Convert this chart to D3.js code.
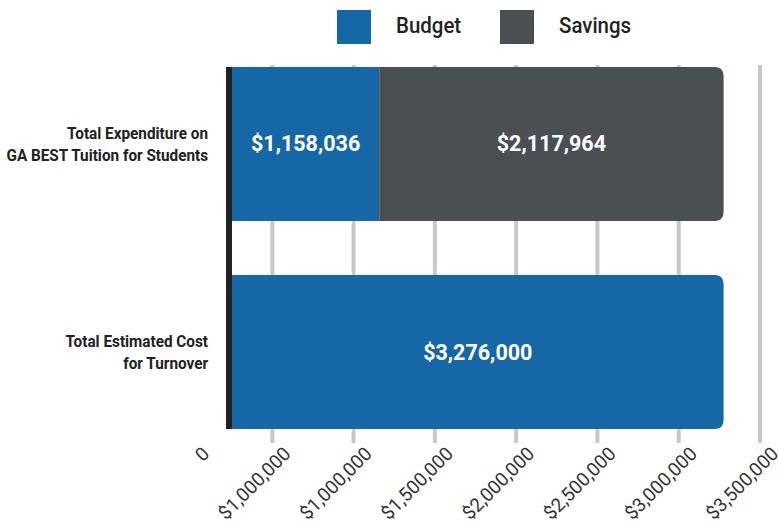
<!DOCTYPE html>
<html>
<head>
<meta charset="utf-8">
<script src="https://cdn.jsdelivr.net/npm/d3@7"></script>
<style>
  html, body { margin: 0; padding: 0; background: #fff; }
  svg { display: block; font-family: Roboto, "Noto Sans", sans-serif; }
</style>
</head>
<body>
<svg id="chart" width="779" height="531"></svg>
<script>
// ---- data ----
const categories = [
  ["Total Expenditure on", "GA BEST Tuition for Students"],
  ["Total Estimated Cost", "for Turnover"]
];
const seriesNames = ["Budget", "Savings"];
const budget = [1158036, 3276000];
const savings = [2117964, 0];
const tickValues = [0, 500000, 1000000, 1500000, 2000000, 2500000, 3000000, 3500000];
const tickLabels = ["0", "$1,000,000", "$1,000,000", "$1,500,000", "$2,000,000", "$2,500,000", "$3,000,000", "$3,500,000"];

// ---- styles / layout ----
const colors = ["#1667a6", "#4a4f52"];
const W = 779, H = 531;
const plotLeft = 232;
const svg = d3.select("#chart");

const x = d3.scaleLinear().domain([0, 3500000]).range([191, 760]);
const y = d3.scaleBand().domain(d3.range(categories.length)).range([67, 429]).paddingInner(0.26).paddingOuter(0);

const rows = categories.map((c, i) => {
  const segs = [];
  let acc = 0;
  [budget[i], savings[i]].forEach((v, s) => {
    if (v > 0) { segs.push({ s, x0: acc, x1: acc + v, v }); }
    acc += v;
  });
  segs.forEach((d, k) => d.last = k === segs.length - 1);
  return { i, segs };
});

// clip
svg.append("defs").append("clipPath").attr("id", "plotclip")
  .append("rect").attr("x", plotLeft).attr("y", 0).attr("width", W - plotLeft).attr("height", H);

// gridlines
svg.append("g").selectAll("line")
  .data(tickValues.filter(v => v > 0))
  .join("line")
  .attr("x1", d => x(d)).attr("x2", d => x(d))
  .attr("y1", 65).attr("y2", 443)
  .attr("stroke", "#c8c8c8").attr("stroke-width", 4);

// bars
function barPath(x0, x1, y0, h, r) {
  if (r <= 0) return `M${x0},${y0}H${x1}V${y0 + h}H${x0}Z`;
  return `M${x0},${y0}H${x1 - r}Q${x1},${y0} ${x1},${y0 + r}V${y0 + h - r}Q${x1},${y0 + h} ${x1 - r},${y0 + h}H${x0}Z`;
}
const barG = svg.append("g").attr("clip-path", "url(#plotclip)");
rows.forEach(row => {
  barG.selectAll(null).data(row.segs).join("path")
    .attr("d", d => barPath(x(d.x0), x(d.x1), y(row.i), y.bandwidth(), d.last ? 9 : 0))
    .attr("fill", d => colors[d.s]);
});

// value labels
const fmt = d3.format("$,");
rows.forEach(row => {
  svg.append("g").selectAll("text").data(row.segs).join("text")
    .attr("x", d => (Math.max(x(d.x0), plotLeft) + x(d.x1)) / 2)
    .attr("y", y(row.i) + y.bandwidth() / 2 + 7.5)
    .attr("text-anchor", "middle")
    .attr("fill", "#fff")
    .attr("font-weight", 700)
    .attr("font-size", 21.5)
    .text(d => fmt(d.v));
});

// axis line
svg.append("rect")
  .attr("x", plotLeft - 6).attr("y", y(0))
  .attr("width", 6).attr("height", y(categories.length - 1) + y.bandwidth() - y(0))
  .attr("fill", "#222");

// category labels
categories.forEach((lines, i) => {
  const cy = y(i) + y.bandwidth() / 2;
  lines.forEach((t, k) => {
    svg.append("g")
      .attr("transform", `translate(208,${cy - 5 + k * 22}) scale(0.9,1)`)
      .append("text")
      .attr("text-anchor", "end")
      .attr("font-weight", 700)
      .attr("font-size", 17)
      .attr("fill", "#222")
      .text(t);
  });
});

// x axis tick labels
const axis = d3.axisBottom(x).tickValues(tickValues).tickFormat((d, i) => tickLabels[i]).tickSize(0);
const ax = svg.append("g").call(axis);
ax.select(".domain").remove();
ax.selectAll("text")
  .attr("x", 0).attr("y", 0).attr("dy", 0)
  .attr("transform", "translate(19,455) rotate(-45)")
  .attr("text-anchor", "end")
  .attr("font-size", 19)
  .attr("font-family", "Roboto, sans-serif")
  .attr("fill", "#333");

// legend
const lg = svg.append("g");
seriesNames.forEach((n, i) => {
  const x0 = 337 + i * 163;
  lg.append("rect").attr("x", x0).attr("y", 10).attr("width", 34).attr("height", 34).attr("fill", colors[i]);
  lg.append("g").attr("transform", `translate(${x0 + 59},33) scale(0.93,1)`)
    .append("text").attr("font-size", 22).attr("font-weight", 500).attr("fill", "#222").text(n);
});
</script>
</body>
</html>
